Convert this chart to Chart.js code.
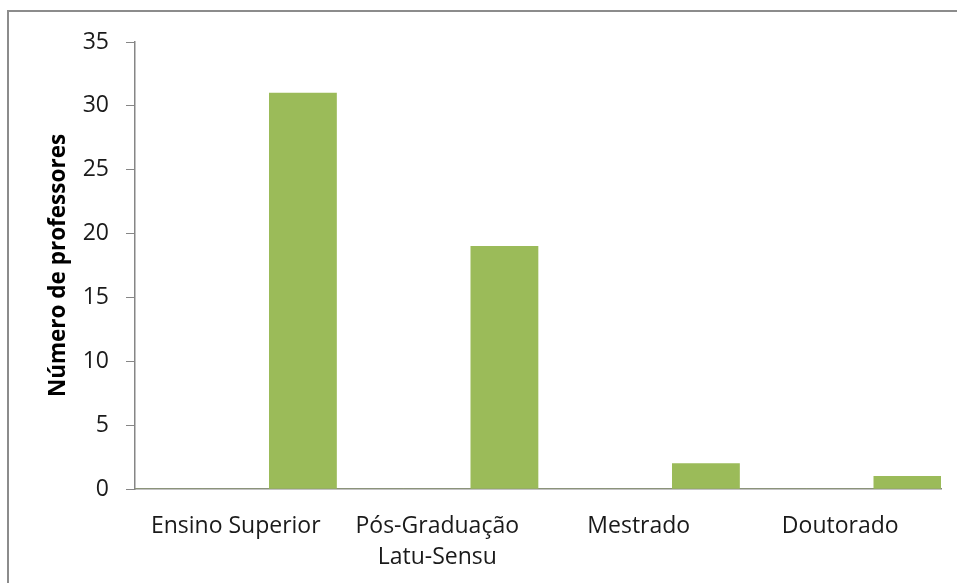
<!DOCTYPE html>
<html>
<head>
<meta charset="utf-8">
<script src="https://cdn.jsdelivr.net/npm/chart.js@4.4.0/dist/chart.umd.min.js"></script>
<style>
  html, body { margin: 0; padding: 0; background: #fff; overflow: hidden; }
  #wrap { position: absolute; left: 0; top: 0; width: 957px; height: 583px; }
  #frame { position: absolute; left: 7px; top: 10px; width: 2000px; height: 2000px; border: 2px solid #8c8c8c; }
  canvas { position: absolute; left: 0; top: 0; }
</style>
</head>
<body>
<div id="wrap">
  <div id="frame"></div>
  <canvas id="c" width="957" height="583"></canvas>
</div>
<script>
const categories = ['Ensino Superior', ['Pós-Graduação', 'Latu-Sensu'], 'Mestrado', 'Doutorado'];
const seriesA = [0, 0, 0, 0];
const seriesB = [0, 0, 0, 0];
const professores = [31, 19, 2, 1];
const yTicks = [0, 5, 10, 15, 20, 25, 30, 35];
const yTitle = 'Número de professores';

const FONT = "'Open Sans', 'Noto Sans', sans-serif";

new Chart(document.getElementById('c'), {
  type: 'bar',
  data: {
    labels: categories,
    datasets: [
      { label: 'A', data: seriesA, backgroundColor: '#9BBB59' },
      { label: 'B', data: seriesB, backgroundColor: '#9BBB59' },
      { label: 'Número de professores', data: professores, backgroundColor: '#9BBB59' }
    ]
  },
  options: {
    responsive: false,
    animation: false,
    devicePixelRatio: 1,
    layout: { padding: { left: 45, top: 42, right: 16, bottom: 0 } },
    datasets: { bar: { categoryPercentage: 1.0, barPercentage: 1.0 } },
    plugins: { legend: { display: false }, tooltip: { enabled: false } },
    scales: {
      x: {
        grid: { drawOnChartArea: false, drawTicks: false },
        border: { color: '#868686', width: 1.5 },
        ticks: { color: '#1a1a1a', font: { family: FONT, size: 23, lineHeight: 1.35 }, padding: 22, maxRotation: 0, autoSkip: false },
        afterFit: s => { s.height = 94; }
      },
      y: {
        min: 0, max: 35,
        afterBuildTicks: s => { s.ticks = yTicks.map(v => ({ value: v })); },
        grid: { drawOnChartArea: false, drawTicks: true, tickLength: 9, color: '#868686' },
        border: { color: '#868686', width: 1.5 },
        ticks: { color: '#1a1a1a', font: { family: FONT, size: 23 }, padding: 17 },
        title: { display: true, text: yTitle, color: '#000', font: { family: FONT, size: 22.5, weight: 'bold', lineHeight: 1.2 }, padding: { top: 0, bottom: 0 } },
        afterFit: s => { s.width = 90; }
      }
    }
  }
});
</script>
</body>
</html>
